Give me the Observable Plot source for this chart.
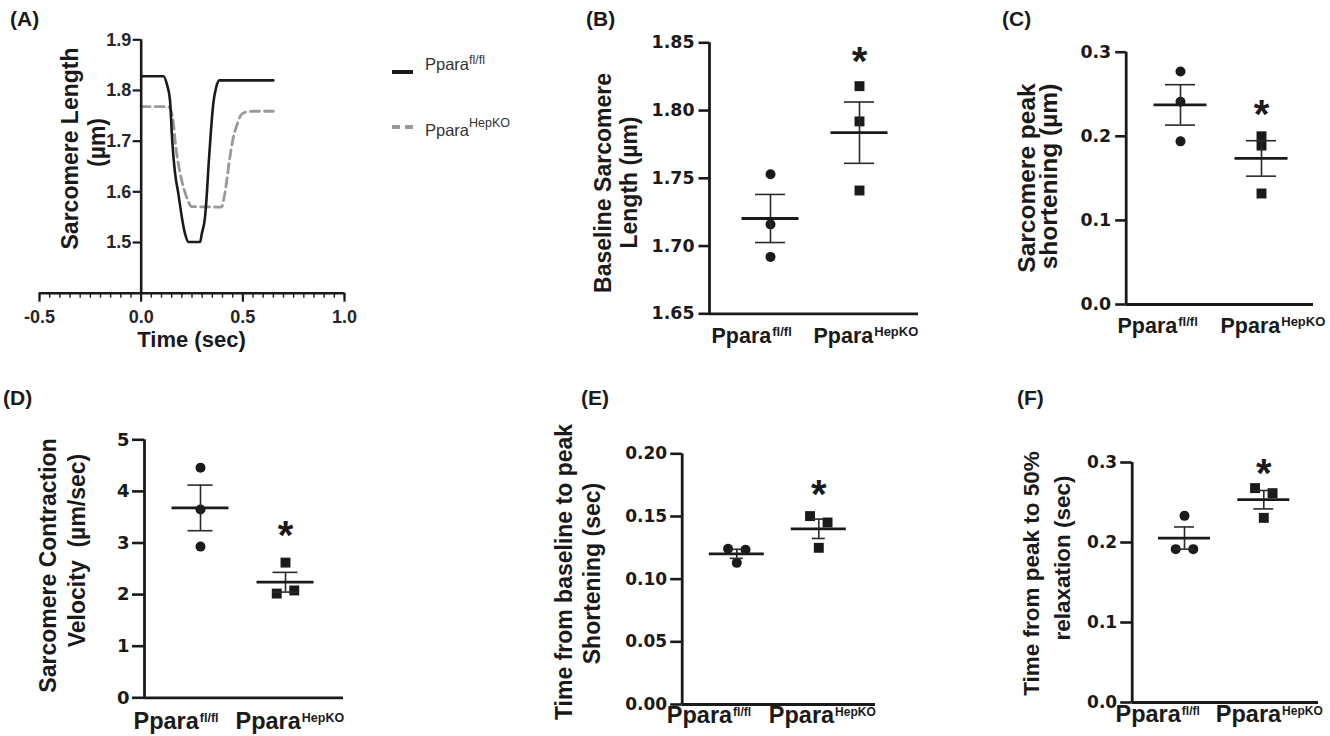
<!DOCTYPE html>
<html>
<head>
<meta charset="utf-8">
<script src="https://cdn.jsdelivr.net/npm/d3@7"></script>
<script src="https://cdn.jsdelivr.net/npm/@observablehq/plot@0.6"></script>
<style>
  body { margin: 0; background: #fff; }
  #fig { position: relative; width: 1330px; height: 736px; overflow: hidden; background: #fff; }
  .panel { position: absolute; }
  .panel svg { max-width: none !important; }
  #overlay { position: absolute; left: 0; top: 0; pointer-events: none; }
</style>
</head>
<body>
<div id="fig"></div>
<script>
// ---------------- DATA ----------------
const groups = ["fl/fl", "HepKO"];

// Panel A: representative sarcomere length traces
const traceTimeFl = [0, 0.110, 0.126, 0.142, 0.151, 0.159, 0.167, 0.183, 0.200, 0.216, 0.233, 0.290, 0.298, 0.314, 0.323, 0.331, 0.342, 0.355, 0.368, 0.385, 0.650];
const traceLenFl  = [1.828, 1.828, 1.813, 1.780, 1.714, 1.668, 1.636, 1.596, 1.550, 1.517, 1.501, 1.501, 1.517, 1.550, 1.596, 1.650, 1.714, 1.775, 1.805, 1.820, 1.820];
const traceTimeKo = [0, 0.134, 0.151, 0.159, 0.167, 0.175, 0.192, 0.208, 0.224, 0.249, 0.396, 0.408, 0.421, 0.434, 0.450, 0.462, 0.473, 0.490, 0.511, 0.552, 0.650];
const traceLenKo  = [1.768, 1.768, 1.754, 1.734, 1.701, 1.675, 1.636, 1.609, 1.589, 1.571, 1.570, 1.589, 1.622, 1.662, 1.701, 1.721, 1.734, 1.751, 1.757, 1.759, 1.759];
const traceTimeTicks = [-0.5, 0, 0.5, 1.0];
const traceLenTicks = [1.5, 1.6, 1.7, 1.8, 1.9];

// Panels B-F: individual animals
const baselineFl = [1.753, 1.716, 1.692], baselineKo = [1.818, 1.792, 1.741];
const shortenFl  = [0.277, 0.241, 0.194], shortenKo  = [0.200, 0.189, 0.132];
const velocityFl = [4.46, 3.65, 2.93],    velocityKo = [2.62, 2.02, 2.08];
const ttpFl      = [0.1242, 0.1234, 0.113], ttpKo    = [0.1503, 0.1452, 0.125];
const relaxFl    = [0.2333, 0.1917, 0.1917], relaxKo = [0.268, 0.2617, 0.2308];

const baselineTicks = [1.65, 1.70, 1.75, 1.80, 1.85];
const shortenTicks  = [0, 0.1, 0.2, 0.3];
const velocityTicks = [0, 1, 2, 3, 4, 5];
const ttpTicks      = [0, 0.05, 0.10, 0.15, 0.20];
const relaxTicks    = [0, 0.1, 0.2, 0.3];

// ---------------- HELPERS ----------------
const FONT_AR = "'Liberation Sans', Arial, Helvetica, sans-serif";
const FONT_DJ = "'DejaVu Sans', Verdana, sans-serif";
const INK = "#1a1a1a";
const fig = document.getElementById("fig");
const ctx = document.createElement("canvas").getContext("2d");
function textW(str, font) { ctx.font = font; return ctx.measureText(str).width; }

function place(node, x, y) {
  const d = document.createElement("div");
  d.className = "panel";
  d.style.left = x + "px";
  d.style.top = y + "px";
  d.appendChild(node);
  fig.appendChild(d);
}

function margins(box, fr) {
  return {
    width: box.w, height: box.h,
    marginLeft: fr.l - box.x, marginRight: box.x + box.w - fr.r,
    marginTop: fr.t - box.y, marginBottom: box.y + box.h - fr.b
  };
}

function rotTitle(lines, fr, fs) {
  return lines.map(L => Plot.text([L.t], {
    text: d => d, frameAnchor: "top-left", dx: L.bx - fr.l, dy: L.cy - fr.t,
    rotate: -90, textAnchor: "middle", lineAnchor: "bottom",
    fontSize: fs, fontWeight: "bold", fontFamily: FONT_AR, fill: INK
  }));
}

// spread overlapping points horizontally (symmetric clusters, GraphPad-like)
function dodgeOffsets(vals, pxPerUnit, thr = 9, step = 17.5) {
  const idx = vals.map((v, i) => i).sort((a, b) => vals[b] - vals[a]);
  const clusters = [];
  let cur = [idx[0]];
  for (let k = 1; k < idx.length; k++) {
    if ((vals[idx[k - 1]] - vals[idx[k]]) * pxPerUnit < thr) cur.push(idx[k]);
    else { clusters.push(cur); cur = [idx[k]]; }
  }
  clusters.push(cur);
  const off = new Array(vals.length).fill(0);
  for (const c of clusters) {
    c.sort((a, b) => a - b);
    c.forEach((i, j) => { off[i] = (j - (c.length - 1) / 2) * step; });
  }
  return off;
}

// ---------------- PANEL A ----------------
{
  const box = {x: 0, y: 0, w: 380, h: 360};
  const fr = {l: 39, r: 344, t: 39.3, b: 292.7};
  const solid = traceTimeFl.map((t, i) => ({t, v: traceLenFl[i]}));
  const dashed = traceTimeKo.map((t, i) => ({t, v: traceLenKo[i]}));
  const minor = d3.range(-10, 21).map(i => i * 0.05);
  const plot = Plot.plot({
    ...margins(box, fr),
    x: {domain: [-0.5, 1.0], axis: null},
    y: {domain: [1.4, 1.9], axis: null},
    style: {background: "transparent", overflow: "visible"},
    marks: [
      Plot.line(dashed, {x: "t", y: "v", stroke: "#999999", strokeWidth: 2.8, strokeDasharray: "9,5", curve: "monotone-x"}),
      Plot.line(solid, {x: "t", y: "v", stroke: INK, strokeWidth: 2.6, curve: "monotone-x"}),
      Plot.ruleY([1.4], {y: d => d, stroke: INK, strokeWidth: 2.6}),
      Plot.ruleX(minor, {x: d => d, y1: () => 1.4, y2: () => 1.4, insetBottom: -5, stroke: INK, strokeWidth: 1.4}),
      Plot.ruleX(traceTimeTicks, {x: d => d, y1: () => 1.4, y2: () => 1.4, insetBottom: -9, stroke: INK, strokeWidth: 2.2}),
      Plot.text(traceTimeTicks, {x: d => d, y: () => 1.4, text: d => d.toFixed(1), dy: 30, lineAnchor: "bottom",
        fontSize: 18, fontWeight: "bold", fontFamily: FONT_AR, fill: "#262626"}),
      Plot.ruleX([0], {x: d => d, y1: () => 1.4, y2: () => 1.9, stroke: INK, strokeWidth: 2.6}),
      Plot.ruleY(traceLenTicks, {y: d => d, x1: () => 0, x2: () => 0, insetLeft: -8, stroke: INK, strokeWidth: 2.2}),
      Plot.text(traceLenTicks, {x: () => 0, y: d => d, text: d => d.toFixed(1), textAnchor: "end", dx: -10,
        fontSize: 18, fontWeight: "bold", fontFamily: FONT_AR, fill: "#262626"}),
      ...rotTitle([{t: "Sarcomere Length", bx: 77, cy: 148}, {t: "(µm)", bx: 104, cy: 142}], fr, 23),
      Plot.text(["Time (sec)"], {text: d => d, frameAnchor: "top-left", dx: 191 - fr.l, dy: 346 - fr.t,
        textAnchor: "middle", lineAnchor: "bottom", fontSize: 22, fontWeight: "bold", fontFamily: FONT_AR, fill: INK})
    ]
  });
  place(plot, box.x, box.y);
}

// ---------------- PANELS B-F ----------------
const STAR = 40;
function dotPanel(P) {
  const {box, fr, cx, yDomain} = P;
  const ppu = cx[1] - cx[0];
  const xDom = [(fr.l - cx[0]) / ppu, (fr.r - cx[0]) / ppu];
  const ppy = (fr.b - fr.t) / (yDomain[1] - yDomain[0]);
  const sets = [P.fl, P.ko];
  const pts = [];
  sets.forEach((vals, gi) => {
    const off = dodgeOffsets(vals, ppy);
    vals.forEach((v, i) => pts.push({gi, v, x: gi + off[i] / ppu}));
  });
  const stats = sets.map((vals, gi) => {
    const m = d3.mean(vals), s = d3.deviation(vals) / Math.sqrt(vals.length);
    return {gi, m, lo: m - s, hi: m + s};
  });
  const wMain = textW("Ppara", `bold ${P.cat.font}px ${FONT_AR}`);
  const cats = groups.map((g, gi) => ({
    g, xm: gi + P.cat.start[gi] / ppu, xs: gi + (P.cat.start[gi] + wMain + 1) / ppu
  }));
  const x0 = xDom[0];
  const plot = Plot.plot({
    ...margins(box, fr),
    x: {domain: xDom, axis: null},
    y: {domain: yDomain, axis: null},
    style: {background: "transparent", overflow: "visible"},
    marks: [
      Plot.dot(pts.filter(p => p.gi === 0), {x: "x", y: "v", r: 5, symbol: "circle", fill: INK, stroke: "none"}),
      Plot.dot(pts.filter(p => p.gi === 1), {x: "x", y: "v", r: 5.6, symbol: "square", fill: INK, stroke: "none"}),
      Plot.ruleX(stats, {x: "gi", y1: "lo", y2: "hi", stroke: "#2a2a2a", strokeWidth: 1.6}),
      Plot.ruleY(stats, {x1: "gi", x2: "gi", y: "hi", insetLeft: -P.capW, insetRight: -P.capW, stroke: "#2a2a2a", strokeWidth: 1.6}),
      Plot.ruleY(stats, {x1: "gi", x2: "gi", y: "lo", insetLeft: -P.capW, insetRight: -P.capW, stroke: "#2a2a2a", strokeWidth: 1.6}),
      Plot.ruleY(stats, {x1: "gi", x2: "gi", y: "m", insetLeft: -P.meanW, insetRight: -P.meanW, stroke: INK, strokeWidth: 2.8}),
      Plot.ruleX([x0], {x: d => d, y1: () => yDomain[0], y2: () => yDomain[1], stroke: INK, strokeWidth: 2.8}),
      Plot.ruleY([yDomain[0]], {y: d => d, stroke: INK, strokeWidth: 2.8}),
      Plot.ruleY(P.ticks, {y: d => d, x1: () => x0, x2: () => x0, insetLeft: -P.tickLen, stroke: INK, strokeWidth: 2.6}),
      Plot.text(P.ticks, {x: () => x0, y: d => d, text: P.fmt, textAnchor: "end", dx: -15,
        fontFamily: FONT_DJ, fontWeight: "bold", fontSize: P.tickFont, fill: INK}),
      Plot.text(cats, {x: "xm", y: () => yDomain[0], text: () => "Ppara", textAnchor: "start", dy: P.cat.base,
        lineAnchor: "bottom", fontFamily: FONT_AR, fontWeight: "bold", fontSize: P.cat.font, fill: INK}),
      Plot.text(cats, {x: "xs", y: () => yDomain[0], text: "g", textAnchor: "start", dy: P.cat.base - 7,
        lineAnchor: "bottom", fontFamily: FONT_AR, fontWeight: "bold", fontSize: P.cat.sup, fill: INK}),
      Plot.text(["*"], {x: () => 1, y: () => d3.max(P.ko), text: d => d, dy: -P.starGap + 0.575 * STAR,
        lineAnchor: "bottom", fontSize: STAR, fontFamily: FONT_AR, fontWeight: "bold", fill: INK}),
      ...rotTitle(P.titles, fr, P.titleFont)
    ]
  });
  place(plot, box.x, box.y);
}

dotPanel({
  box: {x: 560, y: 0, w: 380, h: 360}, fr: {l: 709, r: 918, t: 42.3, b: 313.3}, cx: [770, 859],
  yDomain: [1.65, 1.85], ticks: baselineTicks, fmt: d => d.toFixed(2), tickLen: 10.5, tickFont: 17.4,
  fl: baselineFl, ko: baselineKo,
  cat: {font: 21.5, sup: 13, base: 29, start: [-59, -46]}, meanW: 28.5, capW: 15, starGap: 34,
  titleFont: 23, titles: [{t: "Baseline Sarcomere", bx: 610, cy: 182.5}, {t: "Length (µm)", bx: 636, cy: 182}]
});
dotPanel({
  box: {x: 960, y: 0, w: 370, h: 360}, fr: {l: 1125.7, r: 1313, t: 51.7, b: 304}, cx: [1180, 1261],
  yDomain: [0, 0.3], ticks: shortenTicks, fmt: d => d.toFixed(1), tickLen: 10.5, tickFont: 17.4,
  fl: shortenFl, ko: shortenKo,
  cat: {font: 21.5, sup: 13, base: 28, start: [-63, -41]}, meanW: 26.5, capW: 15, starGap: 31.5,
  titleFont: 24.5, titles: [{t: "Sarcomere peak", bx: 1034, cy: 177.5}, {t: "shortening (µm)", bx: 1056, cy: 176}]
});
dotPanel({
  box: {x: 0, y: 360, w: 380, h: 376}, fr: {l: 144, r: 343, t: 439.3, b: 697.3}, cx: [200, 285],
  yDomain: [0, 5], ticks: velocityTicks, fmt: d => String(d), tickLen: 12, tickFont: 18,
  fl: velocityFl, ko: velocityKo,
  cat: {font: 23.5, sup: 12.5, base: 31, start: [-67, -50]}, meanW: 28.5, capW: 12.5, starGap: 36.5,
  titleFont: 23, titles: [{t: "Sarcomere Contraction", bx: 55, cy: 565}, {t: "Velocity\u00a0 (µm/sec)", bx: 84, cy: 550}]
});
dotPanel({
  box: {x: 520, y: 360, w: 420, h: 376}, fr: {l: 681.7, r: 875, t: 453.3, b: 704}, cx: [736.3, 818.3],
  yDomain: [0, 0.2], ticks: ttpTicks, fmt: d => d.toFixed(2), tickLen: 11.5, tickFont: 17,
  fl: ttpFl, ko: ttpKo,
  cat: {font: 23.5, sup: 12, base: 18, start: [-70, -50]}, meanW: 27.5, capW: 6.5, starGap: 31,
  titleFont: 23, titles: [{t: "Time from baseline to peak", bx: 571, cy: 571.5}, {t: "Shortening (sec)", bx: 599, cy: 573}]
});
dotPanel({
  box: {x: 960, y: 360, w: 370, h: 376}, fr: {l: 1131.7, r: 1318, t: 462, b: 702}, cx: [1184, 1263.3],
  yDomain: [0, 0.3], ticks: relaxTicks, fmt: d => d.toFixed(1), tickLen: 11.5, tickFont: 17,
  fl: relaxFl, ko: relaxKo,
  cat: {font: 23.5, sup: 12, base: 19, start: [-69, -48]}, meanW: 26, capW: 10, starGap: 24,
  titleFont: 22.5, titles: [{t: "Time from peak to 50%", bx: 1038, cy: 573}, {t: "relaxation (sec)", bx: 1069, cy: 557.5}]
});

// ---------------- LEGEND + PANEL LETTERS ----------------
const ns = "http://www.w3.org/2000/svg";
const ov = document.createElementNS(ns, "svg");
ov.setAttribute("id", "overlay");
ov.setAttribute("width", 1330);
ov.setAttribute("height", 736);
const famAttr = FONT_AR.replace(/'/g, "&apos;");
ov.innerHTML = `
  <g font-family="${famAttr}" fill="#333">
    <line x1="392" x2="413" y1="72" y2="72" stroke="${INK}" stroke-width="4"/>
    <text x="425" y="70" font-size="16.5">Ppara<tspan dy="-6" font-size="12.5">${groups[0]}</tspan></text>
    <line x1="392" x2="413" y1="127" y2="127" stroke="#999999" stroke-width="4" stroke-dasharray="8,5"/>
    <text x="425" y="136" font-size="16.5">Ppara<tspan dy="-9" font-size="12.5">${groups[1]}</tspan></text>
  </g>
  <g font-family="${famAttr}" font-weight="bold" font-size="21" fill="${INK}">
    <text x="10" y="26">(A)</text>
    <text x="586" y="26">(B)</text>
    <text x="1002" y="26">(C)</text>
    <text x="3" y="405">(D)</text>
    <text x="581" y="405">(E)</text>
    <text x="1017" y="405">(F)</text>
  </g>`;
fig.appendChild(ov);
</script>
</body>
</html>
